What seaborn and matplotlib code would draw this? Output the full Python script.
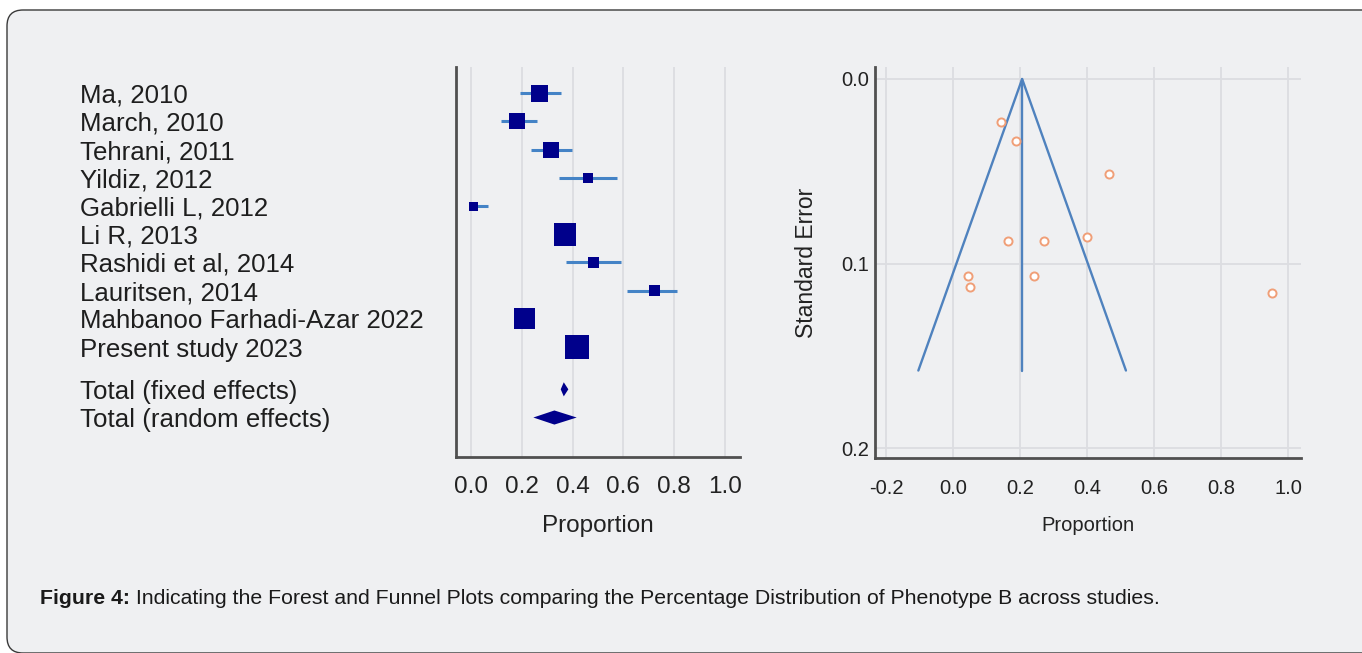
import numpy as np
import pandas as pd
import matplotlib
matplotlib.use("Agg")
import matplotlib.pyplot as plt
import matplotlib.transforms as mtransforms
from matplotlib.patches import FancyBboxPatch
from matplotlib.ticker import MultipleLocator, FormatStrFormatter
import seaborn as sns

# ---- forest plot data -------------------------------------------------
studies = ["Ma, 2010", "March, 2010", "Tehrani, 2011", "Yildiz, 2012",
           "Gabrielli L, 2012", "Li R, 2013", "Rashidi et al, 2014",
           "Lauritsen, 2014", "Mahbanoo Farhadi-Azar 2022", "Present study 2023"]
proportion = [0.268, 0.182, 0.314, 0.461, 0.009, 0.370, 0.482, 0.722, 0.210, 0.417]
ci_low = [0.193, 0.119, 0.236, 0.346, 0.000, 0.340, 0.373, 0.615, 0.185, 0.390]
ci_high = [0.353, 0.259, 0.398, 0.576, 0.068, 0.400, 0.589, 0.812, 0.235, 0.445]
weight = [10.1, 9.2, 9.2, 4.0, 2.9, 18.6, 4.4, 4.4, 16.4, 20.8]

pooled_labels = ["Total (fixed effects)", "Total (random effects)"]
pooled_est = [0.365, 0.328]
pooled_low = [0.353, 0.245]
pooled_high = [0.383, 0.416]

forest_ticks = [0.0, 0.2, 0.4, 0.6, 0.8, 1.0]

# ---- funnel plot data -------------------------------------------------
funnel_prop = [0.143, 0.188, 0.464, 0.163, 0.271, 0.399, 0.043, 0.050, 0.240, 0.951]
funnel_se = [0.0233, 0.0338, 0.0517, 0.0878, 0.0878, 0.0855, 0.107, 0.1126, 0.1066, 0.1162]
funnel_center = 0.206
funnel_se_max = 0.158
funnel_xticks = [-0.2, 0.0, 0.2, 0.4, 0.6, 0.8, 1.0]
funnel_yticks = [0.0, 0.1, 0.2]

caption_bold = "Figure 4:"
caption_rest = (" Indicating the Forest and Funnel Plots comparing the Percentage "
                "Distribution of Phenotype B across studies.")

# ---- style ------------------------------------------------------------
sns.set_theme(style="white")
plt.rcParams["font.family"] = ["Liberation Sans", "DejaVu Sans"]
plt.rcParams["axes.unicode_minus"] = False

BG = "#EFF0F2"
NAVY = "#00008B"
CI_BLUE = "#4483C6"
FUNNEL_BLUE = "#4F82BE"
RING = "#F09F78"
SPINE = "#505050"
GRID = "#DCDDE1"

W, H, DPI = 1362, 653, 100
fig = plt.figure(figsize=(W / DPI, H / DPI), dpi=DPI, facecolor="white")

# rounded panel behind everything
panel = FancyBboxPatch((0.07, 0.0), 14.0, 6.43,
                       boxstyle="round,pad=0,rounding_size=0.16",
                       transform=fig.dpi_scale_trans, facecolor=BG,
                       edgecolor="#3a3a3a", linewidth=1.0, zorder=-5)
fig.patches.append(panel)


def px_axes(left, top, right, bottom):
    return fig.add_axes([left / W, (H - bottom) / H, (right - left) / W, (bottom - top) / H])


def style_axes(ax):
    ax.set_facecolor("none")
    for side in ("top", "right"):
        ax.spines[side].set_visible(False)
    for side in ("left", "bottom"):
        ax.spines[side].set_color(SPINE)
        ax.spines[side].set_linewidth(2.0)
    ax.set_axisbelow(True)


# ======================= forest plot ===================================
ax = px_axes(456, 67, 740, 457)
style_axes(ax)

rows = np.arange(len(studies))
pooled_rows = np.array([len(studies) + 0.5, len(studies) + 1.5])

forest = pd.DataFrame({"study": studies, "row": rows, "p": proportion,
                       "lo": ci_low, "hi": ci_high, "w": weight})

ax.hlines(forest["row"], forest["lo"], forest["hi"], color=CI_BLUE, lw=2.2, zorder=2)
k = 14.35
sns.scatterplot(data=forest, x="p", y="row", size="w",
                sizes=(min(weight) * k, max(weight) * k),
                size_norm=(min(weight), max(weight)),
                marker="s", color=NAVY, linewidth=0, legend=False, ax=ax, zorder=3)

half_h = 0.25
for r, est, lo, hi in zip(pooled_rows, pooled_est, pooled_low, pooled_high):
    ax.fill([lo, est, hi, est], [r, r - half_h, r, r + half_h], color=NAVY,
            linewidth=0, zorder=3)

ax.set_xlim(-0.06, 1.06)
ax.set_ylim(12.9, -0.93)
ax.set_xticks(forest_ticks)
ax.xaxis.set_minor_locator(MultipleLocator(0.1))
ax.xaxis.set_major_formatter(FormatStrFormatter("%.1f"))
ax.set_yticks(np.concatenate([rows, pooled_rows]))
ax.set_yticklabels([])
ax.tick_params(axis="y", direction="in", length=11, width=1.0, color="#8a8a8a")
ax.tick_params(axis="x", which="major", direction="in", length=8, width=1.2,
               color="#777777", labelsize=17.5, pad=14, labelcolor="#222222")
ax.tick_params(axis="x", which="minor", direction="in", length=5, width=1.0, color="#888888")
ax.grid(axis="x", which="major", color=GRID, lw=1.3)
ax.set_xlabel("Proportion", fontsize=17.5, color="#222222", labelpad=12)
ax.set_ylabel("")

label_tf = mtransforms.blended_transform_factory(fig.transFigure, ax.transData)
for r, name in zip(np.concatenate([rows, pooled_rows]), studies + pooled_labels):
    ax.text(80 / W, r, name, transform=label_tf, ha="left", va="center_baseline",
            fontsize=18.6, color="#1e1e1e")

# ======================= funnel plot ===================================
ax2 = px_axes(875, 67, 1301, 458)
style_axes(ax2)

spread = 1.96 * funnel_se_max
ax2.plot([funnel_center - spread, funnel_center, funnel_center + spread],
         [funnel_se_max, 0.0, funnel_se_max], color=FUNNEL_BLUE, lw=1.7, zorder=2)
ax2.plot([funnel_center, funnel_center], [0.0, funnel_se_max],
         color=FUNNEL_BLUE, lw=1.7, zorder=2)

funnel = pd.DataFrame({"prop": funnel_prop, "se": funnel_se})
sns.scatterplot(data=funnel, x="prop", y="se", marker="o", s=34,
                facecolor="white", edgecolor=RING, linewidth=1.4,
                legend=False, ax=ax2, zorder=3)

ax2.set_xlim(-0.233, 1.038)
ax2.set_ylim(0.2054, -0.0065)
ax2.set_xticks(funnel_xticks)
ax2.set_yticks(funnel_yticks)
ax2.xaxis.set_minor_locator(MultipleLocator(0.1))
ax2.yaxis.set_minor_locator(MultipleLocator(0.05))
ax2.xaxis.set_major_formatter(FormatStrFormatter("%.1f"))
ax2.yaxis.set_major_formatter(FormatStrFormatter("%.1f"))
ax2.tick_params(which="major", direction="in", length=8, width=1.2, color="#777777",
                labelsize=14.5, labelcolor="#222222")
ax2.tick_params(axis="x", which="major", pad=15)
ax2.tick_params(axis="y", which="major", pad=4)
ax2.tick_params(which="minor", direction="in", length=5, width=1.0, color="#888888")
ax2.grid(which="major", color=GRID, lw=1.3)
ax2.set_xlabel("Proportion", fontsize=14.5, color="#222222", labelpad=13)
ax2.set_ylabel("Standard Error", fontsize=16.5, color="#222222", labelpad=17)

# ======================= caption =======================================
renderer = fig.canvas.get_renderer()
cap_y = (H - 598) / H
t_bold = fig.text(40 / W, cap_y, caption_bold, fontsize=15.3, fontweight="bold",
                  ha="left", va="center", color="#1a1a1a")
bb = t_bold.get_window_extent(renderer=renderer)
fig.text(bb.x1 / W, cap_y, caption_rest, fontsize=15.3, ha="left", va="center",
         color="#1a1a1a")

fig.savefig("out.png", dpi=DPI, facecolor="white")
